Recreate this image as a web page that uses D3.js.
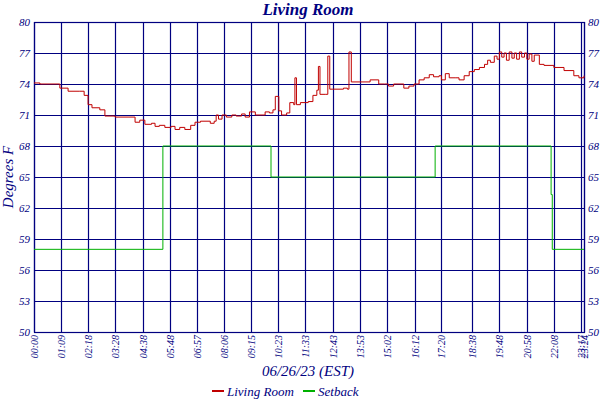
<!DOCTYPE html>
<html><head><meta charset="utf-8">
<script src="https://cdn.jsdelivr.net/npm/d3@7"></script>
<style>body{margin:0;background:#fff}text{font-family:"Liberation Serif",serif;font-style:italic;fill:#000080}</style>
</head><body><svg width="600" height="400"></svg>
<script>
const xTickLabels = ["00:00","01:09","02:18","03:28","04:38","05:48","06:57","08:06","09:15","10:23","11:33","12:43","13:53","15:02","16:12","17:20","18:38","19:48","20:58","22:08","23:17","23:24"];
const yTicks = [50,53,56,59,62,65,68,71,74,77,80];
// [minutes since midnight, degrees F]
const livingRoom = [
  [0,74.1],[15,74.0],[66,73.6],[87,73.3],[117,73.3],[128,72.9],[138,72.0],[148,71.7],[168,71.5],[181,70.9],
  [207,70.8],[240,70.8],[258,70.3],[270,70.5],[283,70.1],[300,70.2],[309,69.9],[320,70.0],[334,69.8],[350,69.9],
  [360,69.6],[372,69.8],[385,69.6],[400,70.0],[411,70.3],[425,70.4],[450,70.2],[460,70.4],[465,71.0],[471,70.6],
  [480,71.0],[491,70.8],[505,71.0],[516,70.9],[530,71.1],[539,70.8],[550,71.3],[565,71.0],[590,71.3],[601,71.2],
  [610,71.5],[616,72.8],[625,71.4],[632,71.0],[645,71.2],[653,72.2],[663,72.0],[666,74.6],[670,72.0],[680,72.2],
  [700,72.3],[712,72.9],[722,73.4],[726,75.7],[730,73.0],[745,73.0],[750,76.7],[755,73.5],[763,73.5],[790,73.6],
  [800,73.5],[804,77.1],[810,74.2],[832,74.2],[845,74.2],[858,74.4],[880,74.0],[895,74.0],[905,73.8],[918,74.0],
  [944,73.6],[957,73.8],[970,74.0],[983,74.4],[996,74.6],[1009,74.9],[1020,74.7],[1034,74.8],[1040,74.4],[1050,75.0],
  [1060,74.6],[1075,74.6],[1085,74.4],[1098,74.8],[1111,75.2],[1124,75.4],[1137,75.6],[1150,75.9],[1158,76.3],[1165,76.1],
  [1175,76.7],[1182,76.4],[1188,77.1],[1194,76.6],[1200,77.0],[1206,76.3],[1213,77.1],[1220,76.5],[1226,77.0],[1232,76.4],
  [1239,77.1],[1245,76.6],[1252,77.0],[1258,76.4],[1264,76.9],[1271,76.2],[1277,76.8],[1290,75.9],[1302,75.8],[1327,75.6],
  [1353,75.3],[1378,74.8],[1391,74.6],[1404,74.8]
];
const setbackMinutes = [0,329,329,605,605,1024,1024,1320,1320,1323,1323,1404];
const setbackValues = [58,58,68,68,65,65,68,68,63.3,63.3,58,58];

const svg = d3.select("svg");
const toMin = s => { const [h, m] = s.split(":").map(Number); return h * 60 + m; };
const x = d3.scaleLinear().domain([0, 1404]).range([34, 584]);
const y = d3.scaleLinear().domain([50, 80]).range([332, 22]);
const navy = "#000080";

// grid
svg.append("g").selectAll("line").data(yTicks).enter().append("line")
  .attr("x1", 34).attr("x2", 584).attr("y1", d => Math.round(y(d)) + 0.5).attr("y2", d => Math.round(y(d)) + 0.5)
  .attr("stroke", navy).attr("stroke-width", 1.2);
svg.append("g").selectAll("line").data(xTickLabels).enter().append("line")
  .attr("x1", d => Math.round(x(toMin(d))) + 0.5).attr("x2", d => Math.round(x(toMin(d))) + 0.5).attr("y1", 22).attr("y2", 332)
  .attr("stroke", navy).attr("stroke-width", 1.2);
svg.append("rect").attr("x", 34.5).attr("y", 22.5).attr("width", 550).attr("height", 310)
  .attr("fill", "none").attr("stroke", navy).attr("stroke-width", 1.2);

// y labels both sides
svg.append("g").selectAll("text").data(yTicks).enter().append("text")
  .attr("x", 30).attr("y", d => y(d) + 4).attr("text-anchor", "end").attr("font-size", 11).text(d => d);
svg.append("g").selectAll("text").data(yTicks).enter().append("text")
  .attr("x", 588).attr("y", d => y(d) + 4).attr("font-size", 11).text(d => d);

// x labels
svg.append("g").selectAll("text").data(xTickLabels).enter().append("text")
  .attr("transform", d => `translate(${x(toMin(d)) + 4},335) rotate(-90)`)
  .attr("text-anchor", "end").attr("font-size", 10).text(d => d);

// lines
const line = (xs, ys) => d3.line().x((d, i) => x(xs[i])).y((d, i) => y(ys[i]))(xs);
svg.append("path").attr("d", line(setbackMinutes, setbackValues))
  .attr("fill", "none").attr("stroke", "#00b000").attr("stroke-width", 1);
svg.append("path").datum(livingRoom)
  .attr("d", d3.line().x(d => x(d[0])).y(d => y(d[1])).curve(d3.curveStepAfter))
  .attr("fill", "none").attr("stroke", "#c00000").attr("stroke-width", 1);

// titles
svg.append("text").attr("x", 308).attr("y", 15).attr("text-anchor", "middle")
  .attr("font-size", 17).attr("font-weight", "bold").text("Living Room");
svg.append("text").attr("transform", "translate(13,177) rotate(-90)").attr("text-anchor", "middle")
  .attr("font-size", 15).text("Degrees F");
svg.append("text").attr("x", 308).attr("y", 376).attr("text-anchor", "middle")
  .attr("font-size", 15).text("06/26/23 (EST)");

// legend
const legend = [["Living Room", "#c00000", 212], ["Setback", "#00b000", 303]];
legend.forEach(([name, c, lx]) => {
  svg.append("line").attr("x1", lx).attr("x2", lx + 12).attr("y1", 391).attr("y2", 391)
    .attr("stroke", c).attr("stroke-width", 2);
  svg.append("text").attr("x", lx + 15).attr("y", 396).attr("font-size", 13).text(name);
});
</script></body></html>
